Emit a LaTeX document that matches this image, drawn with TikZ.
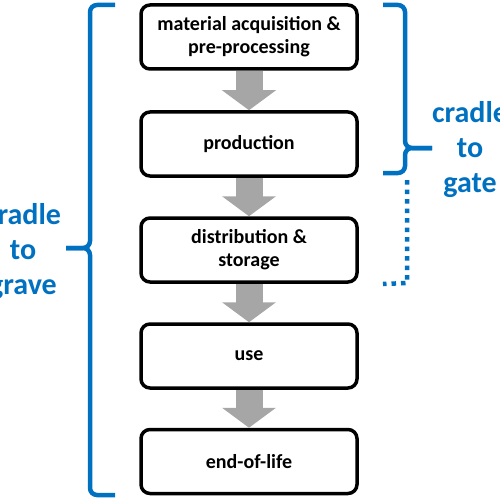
\documentclass[tikz,border=0pt]{standalone}
\usepackage{fontspec}
\setmainfont{Carlito}
\usetikzlibrary{arrows.meta}
\definecolor{lcablue}{RGB}{0,112,192}
\definecolor{arrowgray}{RGB}{166,166,166}
\tikzset{
  stage/.style={draw=black, line width=3.5pt, rounded corners=9pt, fill=white,
    minimum width=216pt, minimum height=64pt, align=center,
    font=\fontsize{20}{23}\selectfont\bfseries},
  flowarrow/.style={draw=arrowgray, line width=27pt,
    -{Triangle[width=53pt,length=20pt]}},
  brace/.style={draw=lcablue, line width=4.5pt, rounded corners=7pt},
  dottedbrace/.style={draw=lcablue, line width=4.5pt, dash pattern=on 4.5pt off 5pt},
  bracelabel/.style={text=lcablue, align=center,
    font=\fontsize{30}{35}\selectfont\bfseries}
}
\begin{document}
\begin{tikzpicture}[x=1pt, y=-1pt]
\useasboundingbox (0,0) rectangle (500,500);
\node[stage] (s1) at (249,37) {material acquisition \&\\pre-processing};
\node[stage] (s2) at (249,144) {production};
\node[stage] (s3) at (249,250) {distribution \&\\storage};
\node[stage] (s4) at (249,356) {use};
\node[stage] (s5) at (249,461.5) {end-of-life};
\draw[flowarrow] (s1) -- (s2);
\draw[flowarrow] (s2) -- (s3);
\draw[flowarrow] (s3) -- (s4);
\draw[flowarrow] (s4) -- (s5);
% left brace: cradle to grave
\coordinate (lt) at (115,5);
\coordinate (ltip) at (66,248);
\coordinate (lb) at (115,495);
\draw[brace] (lt) -- (90,5) -- (90,248) -- (ltip);
\draw[brace] (ltip) -- (90,248) -- (90,495) -- (lb);
\node[bracelabel] (grave) at (23,252) {cradle\\to\\grave};
% right brace: cradle to gate
\coordinate (rt) at (383,5);
\coordinate (rtip) at (432,148);
\coordinate (rb) at (383,173);
\draw[brace] (rt) -- (405,5) -- (405,148) -- (rtip);
\draw[brace] (rtip) -- (405,148) -- (405,173) -- (rb);
\coordinate (dtop) at (407,180);
\coordinate (dend) at (383,284);
\draw[dottedbrace] (dtop) -- (407,283) -- (dend);
\node[bracelabel] (gate) at (470,150) {cradle\\to\\gate};
\end{tikzpicture}
\end{document}
